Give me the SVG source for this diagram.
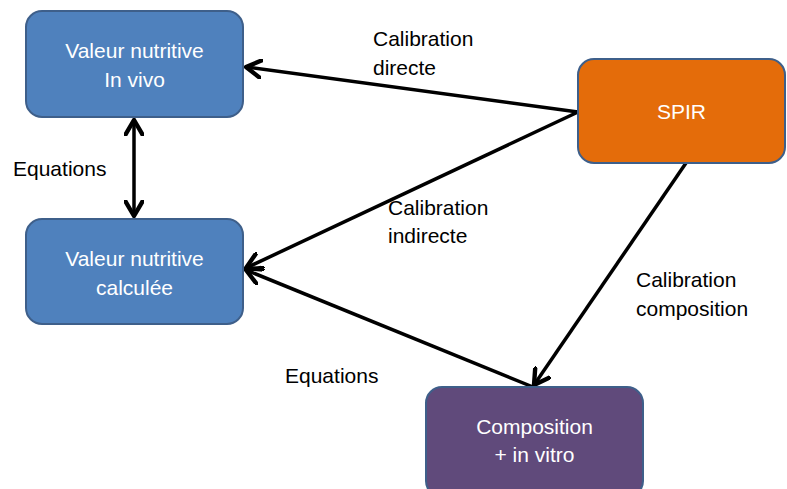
<svg xmlns="http://www.w3.org/2000/svg" width="787" height="489" viewBox="0 0 787 489">
<defs>
<style>
.box{stroke:#3E5F8A;stroke-width:2}
.wt{font-family:"Liberation Sans",Arial,sans-serif;font-size:21px;fill:#ffffff;text-anchor:middle}
.lb{font-family:"Liberation Sans",Arial,sans-serif;font-size:21px;fill:#000000}
.cn{stroke:#000;stroke-width:3.5;fill:none}
</style>
<marker id="ah" markerUnits="userSpaceOnUse" markerWidth="20" markerHeight="20" refX="13" refY="8" orient="auto-start-reverse" viewBox="0 0 16 16">
<path d="M1,1 L13,8 L1,15" fill="none" stroke="#000" stroke-width="3.5" stroke-linecap="round" stroke-linejoin="round"/>
</marker>
</defs>
<rect width="787" height="489" fill="#ffffff"/>
<g id="connectors">
<line class="cn" x1="578" y1="112" x2="246" y2="67" marker-end="url(#ah)"/>
<line class="cn" x1="578" y1="112" x2="246" y2="268" marker-end="url(#ah)"/>
<line class="cn" x1="533" y1="387" x2="246" y2="270" marker-end="url(#ah)"/>
<line class="cn" x1="686" y1="163" x2="534" y2="385" marker-end="url(#ah)"/>
<line class="cn" x1="134" y1="120" x2="134" y2="216" marker-start="url(#ah)" marker-end="url(#ah)"/>
</g>
<g id="node-invivo">
<rect class="box" x="26" y="11" width="217" height="106" rx="16" fill="#4F81BD"/>
<text class="wt" x="134.5" y="58">Valeur nutritive</text>
<text class="wt" x="134.5" y="87">In vivo</text>
</g>
<g id="node-calculee">
<rect class="box" x="26" y="219" width="217" height="105" rx="16" fill="#4F81BD"/>
<text class="wt" x="134.5" y="266">Valeur nutritive</text>
<text class="wt" x="134.5" y="295">calculée</text>
</g>
<g id="node-spir">
<rect class="box" x="578" y="59" width="207" height="104" rx="16" fill="#E46C0A"/>
<text class="wt" x="681.5" y="119">SPIR</text>
</g>
<g id="node-composition">
<rect class="box" x="426" y="387" width="217" height="110" rx="16" fill="#604A7B"/>
<text class="wt" x="534.5" y="434">Composition</text>
<text class="wt" x="534.5" y="462">+ in vitro</text>
</g>
<g id="labels">
<text class="lb" x="373" y="46">Calibration</text>
<text class="lb" x="373" y="75">directe</text>
<text class="lb" x="388" y="215">Calibration</text>
<text class="lb" x="388" y="243">indirecte</text>
<text class="lb" x="636" y="287">Calibration</text>
<text class="lb" x="636" y="316">composition</text>
<text class="lb" x="13" y="176">Equations</text>
<text class="lb" x="285" y="383">Equations</text>
</g>
</svg>
